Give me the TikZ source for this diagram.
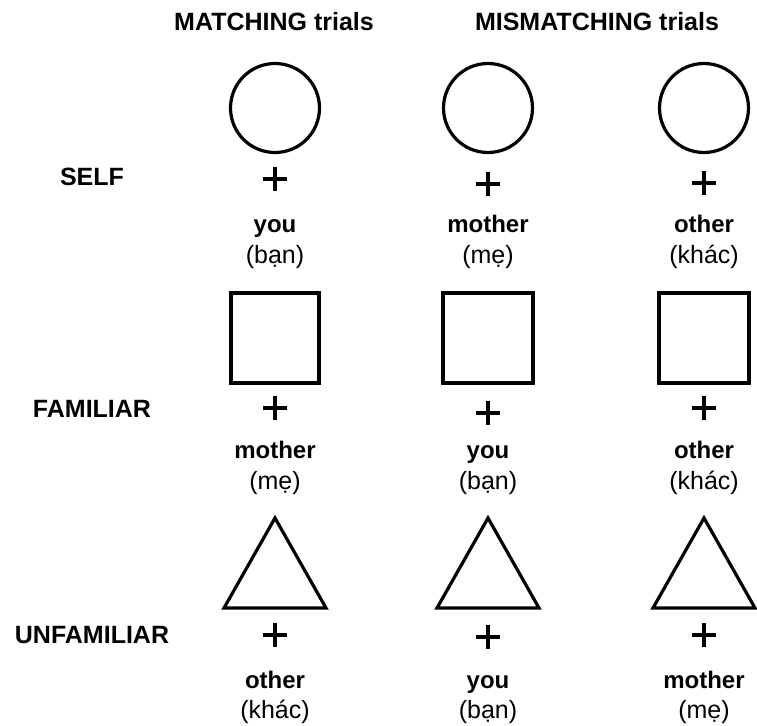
\documentclass[tikz,border=0pt]{standalone}
\usepackage{fontspec}
\setmainfont{Liberation Sans}
\usetikzlibrary{positioning}

\begin{document}
\begin{tikzpicture}[x=1pt,y=-1pt,
  figline/.style={black, line width=3.2pt},
  crossline/.style={black, line width=3.4pt},
  head/.style={font=\fontsize{25}{30}\selectfont\bfseries, anchor=base, inner sep=0pt},
  word/.style={font=\fontsize{24}{29}\selectfont\bfseries, anchor=base, inner sep=0pt},
  trans/.style={font=\fontsize{25}{30}\selectfont, anchor=base, inner sep=0pt}]
\useasboundingbox (0,0) rectangle (757,725);
% column and row titles
\node[head] (hmatch) at (274,31) {MATCHING trials};
\node[head] (hmismatch) at (597,31) {MISMATCHING trials};
\node[head] (lself) at (92,185) {SELF};
\node[head] (lfam) at (92,417) {FAMILIAR};
\node[head] (lunfam) at (92,643) {UNFAMILIAR};
% SELF row
\draw[figline] (275,108) circle (44.5pt);
\draw[figline] (488,108) circle (44.5pt);
\draw[figline] (704,108) circle (44.5pt);
\draw[crossline] (263,179) -- (287,179) (275,167) -- (275,191);
\draw[crossline] (476,184) -- (500,184) (488,172) -- (488,196);
\draw[crossline] (692,183) -- (716,183) (704,171) -- (704,195);
\node[word] (w11) at (275,232) {you};
\node[trans] (t11) at (275,263) {(bạn)};
\node[word] (w12) at (488,232) {mother};
\node[trans] (t12) at (488,263) {(mẹ)};
\node[word] (w13) at (704,232) {other};
\node[trans] (t13) at (704,263) {(khác)};
% FAMILIAR row
\draw[figline] (231,293) rectangle (319,383);
\draw[figline] (443,293) rectangle (533,383);
\draw[figline] (659,293) rectangle (749,383);
\draw[crossline] (263,408) -- (287,408) (275,396) -- (275,420);
\draw[crossline] (476,413) -- (500,413) (488,401) -- (488,425);
\draw[crossline] (692,408) -- (716,408) (704,396) -- (704,420);
\node[word] (w21) at (275,458) {mother};
\node[trans] (t21) at (275,489) {(mẹ)};
\node[word] (w22) at (488,458) {you};
\node[trans] (t22) at (488,489) {(bạn)};
\node[word] (w23) at (704,458) {other};
\node[trans] (t23) at (704,489) {(khác)};
% UNFAMILIAR row
\draw[figline] (224,608) -- (275,518) -- (326,608) -- cycle;
\draw[figline] (437,608) -- (488,518) -- (539,608) -- cycle;
\draw[figline] (653,608) -- (704,518) -- (755,608) -- cycle;
\draw[crossline] (263,635) -- (287,635) (275,623) -- (275,647);
\draw[crossline] (476,637) -- (500,637) (488,625) -- (488,649);
\draw[crossline] (692,635) -- (716,635) (704,623) -- (704,647);
\node[word] (w31) at (275,688) {other};
\node[trans] (t31) at (275,718) {(khác)};
\node[word] (w32) at (488,688) {you};
\node[trans] (t32) at (488,718) {(bạn)};
\node[word] (w33) at (704,688) {mother};
\node[trans] (t33) at (704,718) {(mẹ)};
\end{tikzpicture}
\end{document}
